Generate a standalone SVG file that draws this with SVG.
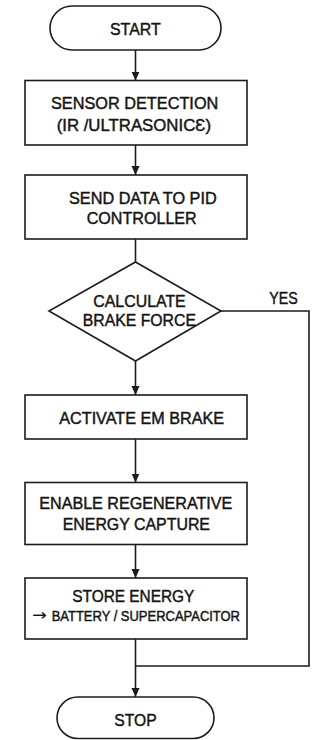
<svg xmlns="http://www.w3.org/2000/svg" width="329" height="740" viewBox="0 0 329 740">
<defs>
<style>
.shape{fill:#fff;stroke:#1c1c1c;stroke-width:1.6}
.conn{fill:none;stroke:#1c1c1c;stroke-width:1.6}
text{font-family:"Liberation Sans",Arial,sans-serif;font-size:17px;fill:#141414;stroke:#141414;stroke-width:0.45}
.small{font-size:15px}
.arrowch{font-family:"DejaVu Sans",sans-serif;font-size:15px;stroke-width:0.2}
</style>
<marker id="ah" viewBox="0 0 10 10" refX="10" refY="5" markerWidth="9" markerHeight="9" markerUnits="userSpaceOnUse" orient="auto">
<path d="M0,0.5 L10,5 L0,9.5 z" fill="#1c1c1c"/>
</marker>
</defs>
<rect width="329" height="740" fill="#fff"/>
<g id="connectors">
<line class="conn" x1="135.5" y1="50" x2="135.5" y2="80.5" marker-end="url(#ah)"/>
<line class="conn" x1="135.5" y1="145" x2="135.5" y2="175" marker-end="url(#ah)"/>
<line class="conn" x1="135.5" y1="239" x2="135.5" y2="262"/>
<line class="conn" x1="135.5" y1="361" x2="135.5" y2="395" marker-end="url(#ah)"/>
<line class="conn" x1="135.5" y1="439" x2="135.5" y2="482.5" marker-end="url(#ah)"/>
<line class="conn" x1="135.5" y1="544.5" x2="135.5" y2="578" marker-end="url(#ah)"/>
<line class="conn" x1="135.5" y1="639" x2="135.5" y2="697" marker-end="url(#ah)"/>
<polyline class="conn" points="221,311 309,311 309,666 135.5,666"/>
<text x="269.3" y="304" textLength="28.4" lengthAdjust="spacingAndGlyphs">YES</text>
</g>
<g id="start">
<rect class="shape" x="50" y="6" width="171" height="44" rx="22"/>
<text x="110" y="35" textLength="50.7" lengthAdjust="spacingAndGlyphs">START</text>
</g>
<g id="sensor">
<rect class="shape" x="25" y="80.5" width="222" height="64.5"/>
<text x="51" y="108.5" textLength="167.3" lengthAdjust="spacingAndGlyphs">SENSOR DETECTION</text>
<text x="56.7" y="130.5" textLength="154.3" lengthAdjust="spacingAndGlyphs">(IR /ULTRASONICƐ)</text>
</g>
<g id="send">
<rect class="shape" x="25" y="175" width="222" height="64"/>
<text x="69" y="203.5" textLength="147.7" lengthAdjust="spacingAndGlyphs">SEND DATA TO PID</text>
<text x="86.7" y="224.3" textLength="110" lengthAdjust="spacingAndGlyphs">CONTROLLER</text>
</g>
<g id="calc">
<polygon class="shape" points="135.5,262 221,311 135.5,361 49,311"/>
<text x="93.3" y="307.3" textLength="92.4" lengthAdjust="spacingAndGlyphs">CALCULATE</text>
<text x="82.7" y="326" textLength="113.3" lengthAdjust="spacingAndGlyphs">BRAKE FORCE</text>
</g>
<g id="activate">
<rect class="shape" x="25" y="395" width="222" height="44"/>
<text x="59.3" y="424.3" textLength="164.7" lengthAdjust="spacingAndGlyphs">ACTIVATE EM BRAKE</text>
</g>
<g id="enable">
<rect class="shape" x="25" y="482.5" width="222" height="62"/>
<text x="39.3" y="509.3" textLength="193" lengthAdjust="spacingAndGlyphs">ENABLE REGENERATIVE</text>
<text x="62.7" y="530" textLength="147.3" lengthAdjust="spacingAndGlyphs">ENERGY CAPTURE</text>
</g>
<g id="store">
<rect class="shape" x="25" y="578" width="222" height="61"/>
<text x="72.3" y="602.3" textLength="122" lengthAdjust="spacingAndGlyphs">STORE ENERGY</text>
<text class="arrowch" x="32.3" y="620" textLength="14.4" lengthAdjust="spacingAndGlyphs">→</text>
<text class="small" x="51.7" y="621" textLength="188.3" lengthAdjust="spacingAndGlyphs">BATTERY / SUPERCAPACITOR</text>
</g>
<g id="stop">
<rect class="shape" x="57" y="697" width="157" height="41.5" rx="20.75"/>
<text x="114.3" y="726" textLength="42.4" lengthAdjust="spacingAndGlyphs">STOP</text>
</g>
</svg>
